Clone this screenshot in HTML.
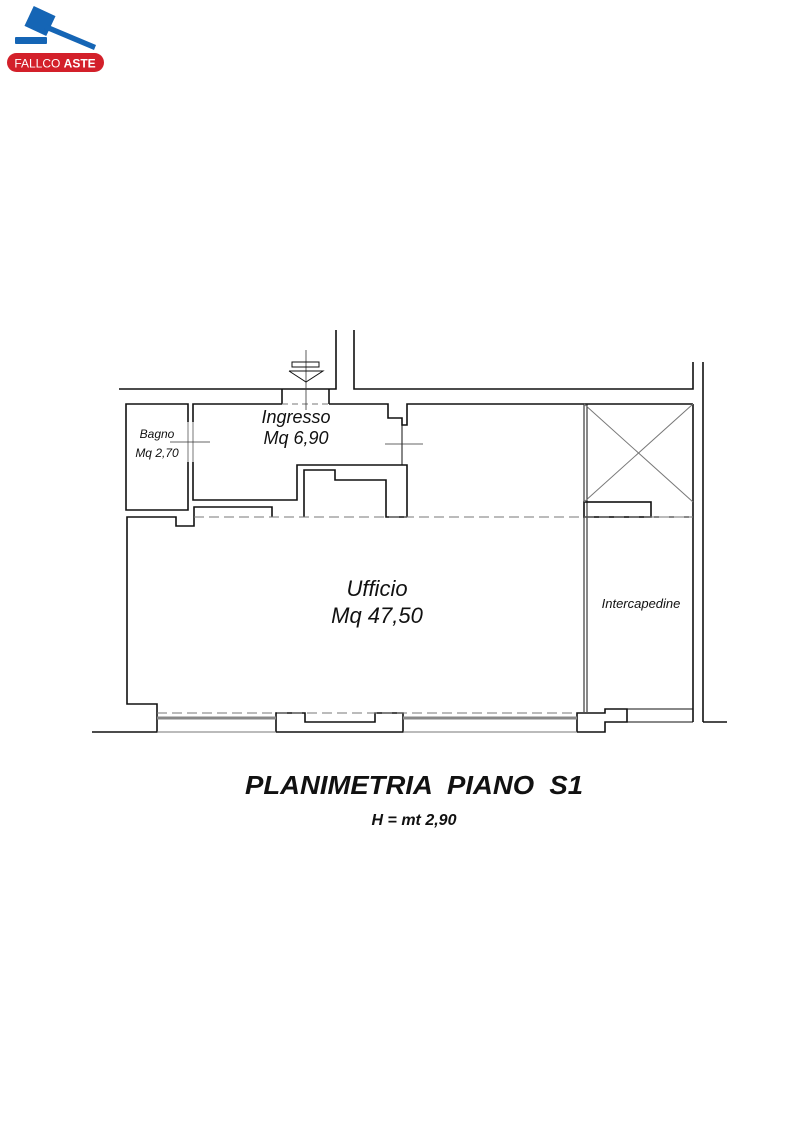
<!DOCTYPE html>
<html><head><meta charset="utf-8"><style>
html,body{margin:0;padding:0;background:#fff;}
svg{display:block;}
text{font-family:"Liberation Sans",sans-serif;font-style:italic;fill:#111;}
</style></head><body>
<svg width="800" height="1131" viewBox="0 0 800 1131" xmlns="http://www.w3.org/2000/svg">
<g fill="#1565b5">
<rect x="28" y="10" width="24" height="22" transform="rotate(25 40 21)"/>
<polygon points="46,24 96,45 94,50 44,29"/>
<rect x="15" y="37" width="32" height="7" rx="1"/>
</g>
<rect x="7" y="53" width="97" height="19" rx="9.5" fill="#d3202a"/>
<text x="55" y="67.5" text-anchor="middle" style="font-style:normal;font-size:12px;fill:#fff">FALLCO <tspan font-weight="bold">ASTE</tspan></text>

<g fill="none" stroke="#111" stroke-width="1.6">
<polyline points="119,389 336,389 336,330"/>
<polyline points="354,330 354,389 693,389 693,362"/>
<line x1="703" y1="362" x2="703" y2="722"/>
<polyline points="703,722 727,722"/>
<line x1="282" y1="389" x2="282" y2="404"/>
<line x1="329" y1="389" x2="329" y2="404"/>
<polyline points="188,422 188,404 126,404 126,510 188,510 188,462"/>
<polyline points="193,422 193,404 282,404"/>
<polyline points="329,404 388,404 388,418 402,418 402,425 407,425 407,404 693,404"/>
<polyline points="193,462 193,500 297,500 297,465 402,465 407,465 407,517"/>
<polyline points="402,425 402,465" stroke-width="1"/>
<polyline points="304,517 304,470 335,470 335,480 386,480 386,517 407,517"/>
<polyline points="272,517 272,507 194,507 194,526 176,526 176,517 127,517 127,704 157,704 157,732 92,732"/>
<line x1="693" y1="404" x2="693" y2="722"/>
<line x1="584" y1="404" x2="584" y2="712" stroke-width="1"/>
<line x1="587" y1="404" x2="587" y2="712" stroke-width="1"/>
<rect x="584" y="502" width="67" height="15"/>
<line x1="651" y1="517" x2="693" y2="517" stroke-width="1"/>
<polyline points="276,732 276,713 305,713 305,722 375,722 375,713 403,713 403,732 276,732"/>
<polyline points="577,732 577,713 605,713 605,709 627,709 627,722 605,722 605,732 577,732"/>
<line x1="627" y1="709" x2="693" y2="709" stroke-width="1"/>
<line x1="627" y1="722" x2="693" y2="722" stroke-width="1"/>
</g>
<g stroke="#777" stroke-width="1" fill="none">
<line x1="584" y1="404" x2="693" y2="502"/>
<line x1="693" y1="404" x2="584" y2="502"/>
<line x1="194" y1="517" x2="693" y2="517" stroke-dasharray="10,5"/>
<line x1="157" y1="713" x2="577" y2="713" stroke-dasharray="10,5"/>
<line x1="282" y1="404" x2="329" y2="404" stroke-dasharray="6,4"/>
<line x1="157" y1="732" x2="276" y2="732"/>
<line x1="403" y1="732" x2="577" y2="732"/>
<line x1="188" y1="422" x2="188" y2="462"/>
<line x1="193" y1="422" x2="193" y2="462"/>
</g>
<g stroke="#888" stroke-width="3">
<line x1="157" y1="718" x2="276" y2="718"/>
<line x1="403" y1="718" x2="577" y2="718"/>
</g>
<g stroke="#333" stroke-width="0.8">
<line x1="170" y1="442" x2="210" y2="442"/>
<line x1="385" y1="444" x2="423" y2="444"/>
<line x1="306" y1="350" x2="306" y2="410"/>
</g>
<rect x="292" y="362" width="27" height="5" fill="none" stroke="#111" stroke-width="1"/>
<polyline points="289,371 323,371 306,382 289,371" fill="none" stroke="#111" stroke-width="1"/>

<text x="296" y="423" font-size="18" text-anchor="middle">Ingresso</text>
<text x="296" y="444" font-size="18" text-anchor="middle">Mq 6,90</text>
<text x="157" y="438" font-size="12" text-anchor="middle">Bagno</text>
<text x="157" y="457" font-size="12" text-anchor="middle">Mq 2,70</text>
<text x="377" y="596" font-size="22" text-anchor="middle">Ufficio</text>
<text x="377" y="623" font-size="22" text-anchor="middle">Mq 47,50</text>
<text x="641" y="608" font-size="13" text-anchor="middle">Intercapedine</text>
<text x="245" y="794" font-size="26" font-weight="bold" textLength="338" lengthAdjust="spacingAndGlyphs" xml:space="preserve">PLANIMETRIA  PIANO  S1</text>
<text x="414" y="825" font-size="16" font-weight="bold" text-anchor="middle">H = mt 2,90</text>
</svg>
</body></html>
